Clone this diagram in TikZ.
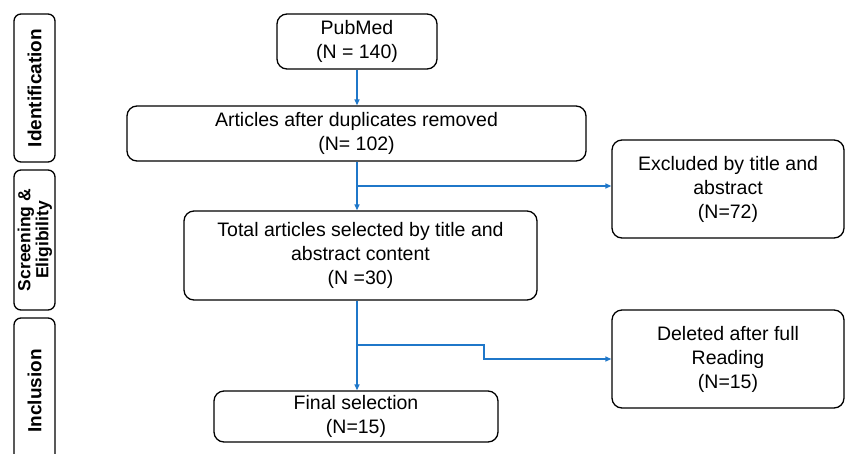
\documentclass[tikz,border=0pt]{standalone}
\usepackage{fontspec}
\setmainfont{Liberation Sans}
\usetikzlibrary{arrows.meta}
\definecolor{arrblue}{HTML}{1F77C9}
\tikzset{
  box/.style={draw=black, line width=1.3pt, rounded corners=10pt, align=center,
    inner sep=0pt, font=\fontsize{19.5}{24}\selectfont},
  side/.style={draw=black, line width=1.3pt, rounded corners=7pt, inner sep=0pt, minimum width=41pt},
  sidelabel/.style={rotate=90, font=\bfseries\fontsize{19}{19}\selectfont, align=center},
  arr/.style={draw=arrblue, line width=1.3pt, -{Triangle[length=6pt,width=5pt]}},
}
\begin{document}
\begin{tikzpicture}[x=1pt,y=-1pt]
\useasboundingbox (0,0) rectangle (845,453);
% side boxes
\node[side, minimum height=148pt] (id) at (34.5,88) {};
\node[sidelabel] (idl) at (id.center) {Identification};
\node[side, minimum height=140pt] (scr) at (34.5,240) {};
\node[sidelabel, font=\bfseries\fontsize{17.5}{18}\selectfont] (scrl) at (35,240) {Screening \&\\Eligibility};
\node[side, minimum height=152pt] (inc) at (34.5,394) {};
\node[sidelabel] (incl) at (34.5,391) {Inclusion};
% main boxes
\node[box, minimum width=160pt, minimum height=55pt] (pub) at (357,41.5) {PubMed\\(N = 140)};
\node[box, minimum width=459pt, minimum height=55pt] (art) at (356.5,133.5) {Articles after duplicates removed\\(N= 102)};
\node[box, minimum width=353pt, minimum height=89pt] (tot) at (360.5,255.5) {Total articles selected by title and\\abstract content\\(N =30)};
\node[box, minimum width=284pt, minimum height=51pt] (fin) at (356,416.5) {Final selection\\(N=15)};
\node[box, minimum width=232pt, minimum height=98pt] (exc) at (728,189) {Excluded by title and\\abstract\\(N=72)};
\node[box, minimum width=232pt, minimum height=98pt] (del) at (728,359) {Deleted after full\\Reading\\(N=15)};
% connectors
\coordinate (c0) at (357,0);
\draw[arr] (pub.south) -- (pub.south |- art.north);
\draw[arr] (c0 |- art.south) -- (c0 |- tot.north);
\coordinate (b1) at (357,186);
\draw[arr] (b1) -- (b1 -| exc.west);
\draw[arr] (c0 |- tot.south) -- (c0 |- fin.north);
\coordinate (b2) at (357,345);
\draw[arr] (b2) -- ++(127,0) |- (del.west);
\end{tikzpicture}
\end{document}
